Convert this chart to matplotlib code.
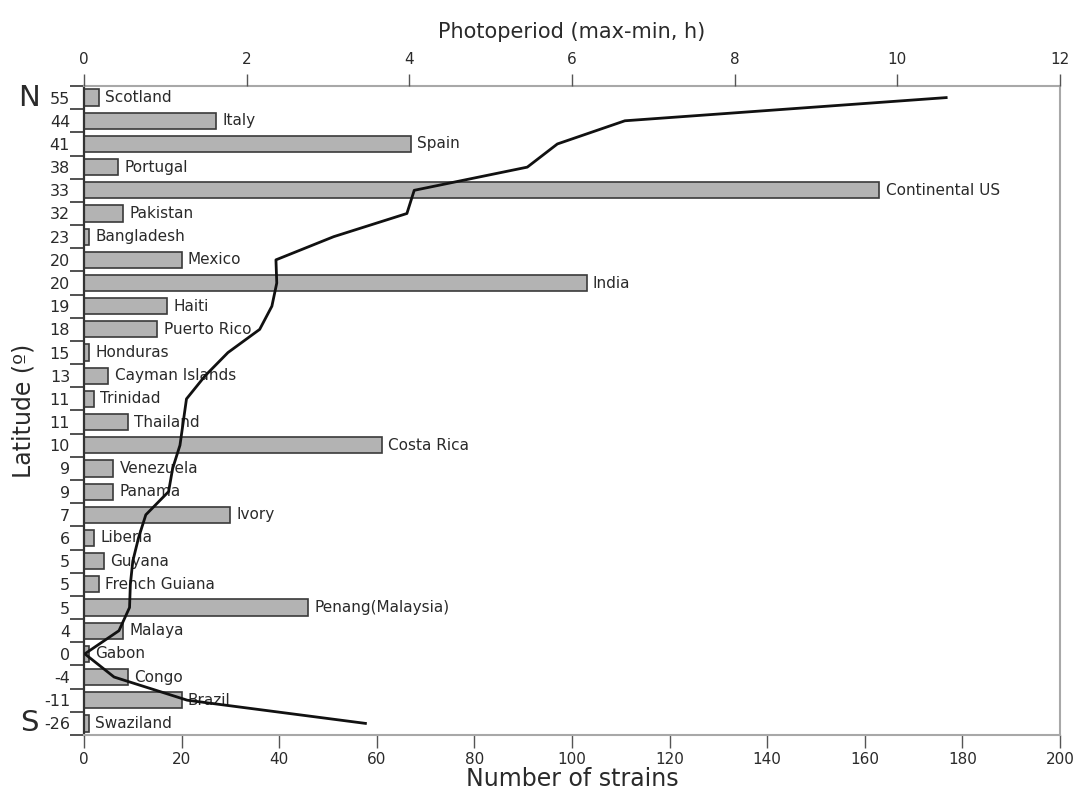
import matplotlib.pyplot as plt
from matplotlib.transforms import blended_transform_factory

plt.rcParams['font.family'] = ['DejaVu Sans']

# 국가별 균주 수와 광주기
countries = ['Scotland', 'Italy', 'Spain', 'Portugal', 'Continental US', 'Pakistan',
             'Bangladesh', 'Mexico', 'India', 'Haiti', 'Puerto Rico', 'Honduras',
             'Cayman Islands', 'Trinidad', 'Thailand', 'Costa Rica', 'Venezuela',
             'Panama', 'Ivory', 'Liberia', 'Guyana', 'French Guiana',
             'Penang(Malaysia)', 'Malaya', 'Gabon', 'Congo', 'Brazil', 'Swaziland']
latitudes = ['55', '44', '41', '38', '33', '32', '23', '20', '20', '19', '18', '15',
             '13', '11', '11', '10', '9', '9', '7', '6', '5', '5', '5', '4', '0',
             '-4', '-11', '-26']
strains = [3, 27, 67, 7, 163, 8, 1, 20, 103, 17, 15, 1, 5, 2, 9, 61, 6, 6, 30,
           2, 4, 3, 46, 8, 1, 9, 20, 1]
photoperiod = [10.6, 6.65, 5.82, 5.45, 4.06, 3.97, 3.07, 2.36, 2.37, 2.31, 2.16,
               1.77, 1.49, 1.26, 1.22, 1.18, 1.09, 1.04, 0.76, 0.67, 0.6, 0.57,
               0.56, 0.43, 0.01, 0.37, 1.27, 3.46]

txt = '#2a2a2a'
fig = plt.figure(figsize=(10.81, 7.95), dpi=100)
ax = fig.add_axes([0.0777, 0.0755, 0.9029, 0.8163])

ypos = list(range(len(countries)))
bars = ax.barh(ypos, strains, height=0.7, color='#b3b3b3', edgecolor='#3a3a3a',
               linewidth=1.2)
for y, v, name in zip(ypos, strains, countries):
    ax.text(v + 1.3, y, name, va='center', ha='left', fontsize=11, color=txt)

ax.set_xlim(0, 200)
ax.set_ylim(len(countries) - 0.5, -0.5)
ax.set_xticks(range(0, 201, 20))
ax.set_yticks(ypos)
ax.set_yticklabels(latitudes)
ax.set_yticks([i - 0.5 for i in range(len(countries) + 1)], minor=True)
ax.tick_params(axis='y', which='major', length=0, pad=10, labelsize=11.5, labelcolor=txt)
ax.tick_params(axis='y', which='minor', length=10, width=1.2, color='#333333')
ax.tick_params(axis='x', length=9, width=1, color='#555555', labelsize=11,
               labelcolor=txt, pad=3)
ax.set_xlabel('Number of strains', fontsize=17, color=txt, labelpad=0)

for s in ['top', 'right', 'bottom']:
    ax.spines[s].set_color('#a8a8a8')
    ax.spines[s].set_linewidth(1.5)
ax.spines['left'].set_color('#333333')
ax.spines['left'].set_linewidth(1.6)

# 광주기 곡선 (상단 축)
ax2 = ax.twiny()
ax2.plot(photoperiod, ypos, color='#111111', linewidth=2)
ax2.set_xlim(0, 12)
ax2.set_xticks(range(0, 13, 2))
ax2.tick_params(axis='x', length=9, width=1, color='#555555', labelsize=11,
                labelcolor=txt, pad=5)
ax2.set_xlabel('Photoperiod (max-min, h)', fontsize=15, color=txt, labelpad=10)
for s in ax2.spines.values():
    s.set_visible(False)

trans = blended_transform_factory(ax.transAxes, ax.transData)
ax.text(-0.056, 0, 'N', transform=trans, ha='center', va='center', fontsize=21, color=txt)
ax.text(-0.056, len(countries) - 1, 'S', transform=trans, ha='center', va='center',
        fontsize=21, color=txt)
ax.text(-0.062, 0.5, 'Latitude (º)', transform=ax.transAxes, rotation=90,
        ha='center', va='center', fontsize=17, color=txt)

plt.savefig('out.png', dpi=100, facecolor='white')
plt.close()
